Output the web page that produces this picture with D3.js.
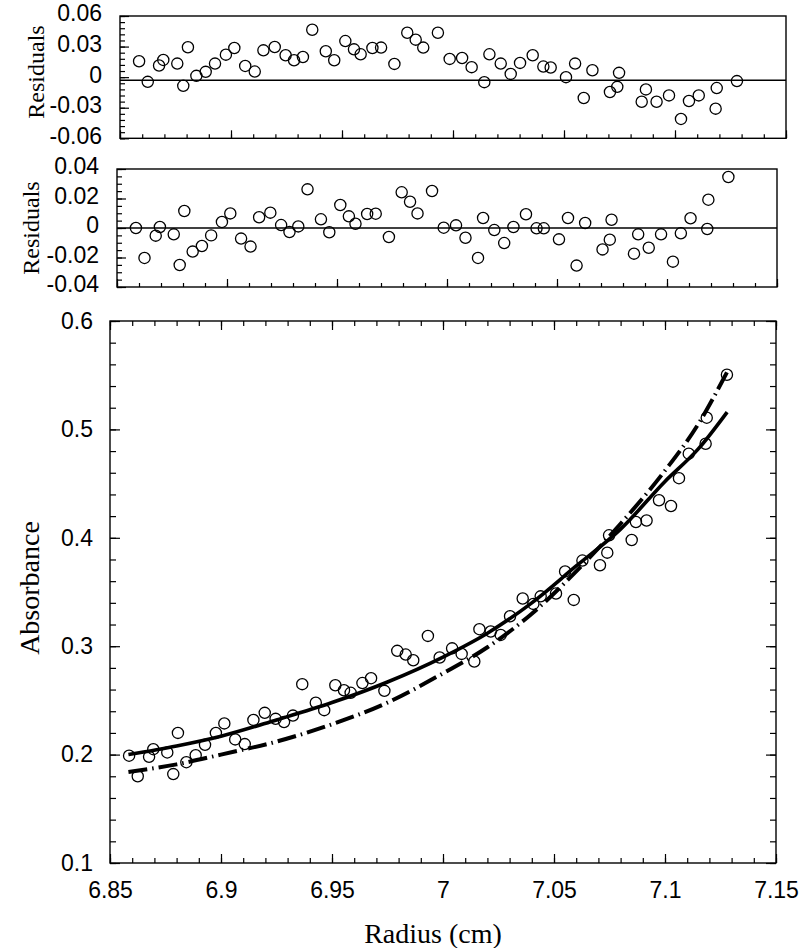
<!DOCTYPE html>
<html>
<head>
<meta charset="utf-8">
<script src="https://cdn.jsdelivr.net/npm/d3@7"></script>
<style>
  html, body { margin: 0; padding: 0; background: #fff; }
  svg { display: block; }
  .tick text { font-family: "Liberation Sans Narrow", "Arial Narrow", sans-serif; font-size: 23px; fill: #000; }
  .tick line { stroke: #000; stroke-width: 1.2; }
  .title { font-family: "Liberation Serif", "Times New Roman", serif; fill: #000; }
</style>
</head>
<body>
<div id="chart"></div>
<script>
// radial positions (cm) of the scan points
const radius = [
  6.8586, 6.8625, 6.8676, 6.8695, 6.8758, 6.8785, 6.8806, 6.8844, 6.8886, 6.8928,
  6.8977, 6.9015, 6.9064, 6.9107, 6.9146, 6.9197, 6.9246, 6.9284, 6.9324, 6.9366,
  6.9427, 6.9465, 6.9515, 6.9554, 6.9584, 6.9637, 6.9676, 6.9736, 6.9794, 6.9832,
  6.9866, 6.9932, 6.9985, 7.0041, 7.0084, 7.0141, 7.0164, 7.0215, 7.0260, 7.0302,
  7.0359, 7.0407, 7.0440, 7.0509, 7.0550, 7.0589, 7.0628, 7.0707, 7.0740, 7.0748,
  7.0850, 7.0869, 7.0917, 7.0973, 7.1027, 7.1063, 7.1107, 7.1183, 7.1188, 7.1279
];

const absorbance = [
  0.199, 0.180, 0.198, 0.205, 0.202, 0.182, 0.220, 0.193, 0.1995, 0.209,
  0.220, 0.2288, 0.214, 0.2097, 0.232, 0.2385, 0.233, 0.230, 0.236, 0.265,
  0.2478, 0.241, 0.264, 0.2594, 0.257, 0.266, 0.2705, 0.2588, 0.2957, 0.2923,
  0.287, 0.3095, 0.2896, 0.298, 0.2929, 0.2859, 0.3157, 0.3136, 0.3104, 0.3276,
  0.344, 0.339, 0.346, 0.3486, 0.369, 0.3427, 0.379, 0.3747, 0.3863, 0.4023,
  0.398, 0.4146, 0.416, 0.4346, 0.4293, 0.455, 0.4776, 0.4868, 0.5108, 0.5504
];

// residuals, top panel
const residualsTop = [
  0.0156, -0.0046, 0.0114, 0.0169, 0.0133, -0.0085, 0.0293, 0.0013, 0.0052, 0.0133,
  0.0221, 0.0286, 0.011, 0.0055, 0.0263, 0.0296, 0.0215, 0.0166, 0.0198, 0.0465,
  0.0254, 0.0166, 0.0354, 0.0273, 0.0224, 0.0286, 0.029, 0.013, 0.0436, 0.0368,
  0.029, 0.0436, 0.0179, 0.0188, 0.0098, -0.0049, 0.0224, 0.0133, 0.0032, 0.014,
  0.0215, 0.0104, 0.0095, 0.000, 0.0133, -0.0205, 0.0068, -0.0146, -0.0095, 0.0042,
  -0.0241, -0.012, -0.0241, -0.0179, -0.041, -0.0234, -0.0179, -0.0309, -0.0107, -0.0039
];

// residuals, middle panel
const residualsMid = [
  0.000, -0.0203, -0.0052, 0.0007, -0.0043, -0.0251, 0.0115, -0.016, -0.0122, -0.005,
  0.0041, 0.0099, -0.0072, -0.0126, 0.0073, 0.0104, 0.002, -0.0027, 0.0011, 0.0262,
  0.0059, -0.0029, 0.0156, 0.0079, 0.0029, 0.0095, 0.0097, -0.0061, 0.0242, 0.0178,
  0.0099, 0.0251, 0.0002, 0.0018, -0.0066, -0.0203, 0.0068, -0.0014, -0.0102, 0.0007,
  0.0093, -0.0002, -0.0002, -0.0077, 0.0068, -0.0255, 0.0034, -0.0145, -0.0079, 0.0056,
  -0.0174, -0.0043, -0.0134, -0.0043, -0.0228, -0.0036, 0.0066, -0.0007, 0.0192, 0.0346
];

// fitted curves
const solidFitX = [6.8583, 6.88, 6.90, 6.925, 6.95, 6.975, 7.00, 7.02, 7.04, 7.06, 7.08, 7.10, 7.115, 7.128];
const solidFitY = [0.200, 0.208, 0.217, 0.232, 0.248, 0.267, 0.290, 0.312, 0.340, 0.374, 0.408, 0.452, 0.482, 0.516];
const dashFitX = [6.8583, 6.88, 6.90, 6.925, 6.95, 6.975, 7.00, 7.02, 7.04, 7.06, 7.08, 7.10, 7.115, 7.128];
const dashFitY = [0.184, 0.191, 0.200, 0.212, 0.228, 0.248, 0.275, 0.299, 0.330, 0.369, 0.413, 0.462, 0.505, 0.553];

// zero reference lines of the residual panels
const topRefLine = -0.003;
const midRefLine = 0;

const xTicks = [6.85, 6.9, 6.95, 7, 7.05, 7.1, 7.15];
const xTickLabels = ["6.85", "6.9", "6.95", "7", "7.05", "7.1", "7.15"];
const mainYTicks = [0.1, 0.2, 0.3, 0.4, 0.5, 0.6];
const mainYLabels = ["0.1", "0.2", "0.3", "0.4", "0.5", "0.6"];
const topYTicks = [-0.06, -0.03, 0, 0.03, 0.06];
const topYLabels = ["-0.06", "-0.03", "0", "0.03", "0.06"];
const midYTicks = [-0.04, -0.02, 0, 0.02, 0.04];
const midYLabels = ["-0.04", "-0.02", "0", "0.02", "0.04"];

const W = 800, H = 948;
const svg = d3.select('#chart').append('svg').attr('width', W).attr('height', H);

const xMinor = d3.range(0, 31).map(i => 6.85 + i * 0.01);

function frame(g, x, y) {
  g.append('rect')
    .attr('x', x.range()[0]).attr('y', y.range()[1])
    .attr('width', x.range()[1] - x.range()[0])
    .attr('height', y.range()[0] - y.range()[1])
    .attr('fill', 'none').attr('stroke', '#000').attr('stroke-width', 1.4);
}

function labelMap(ticks, labels) {
  return d => labels[ticks.findIndex(t => Math.abs(t - d) < 1e-9)];
}

function tickAxis(g, axis, transform) {
  const a = g.append('g').attr('transform', transform).call(axis);
  a.select('.domain').remove();
  return a;
}

function circles(g, x, y, ys) {
  g.append('g').selectAll('circle')
    .data(radius.map((r, i) => [r, ys[i]]))
    .join('circle')
    .attr('cx', d => x(d[0]))
    .attr('cy', d => y(d[1]))
    .attr('r', 5.6)
    .attr('fill', 'none')
    .attr('stroke', '#000')
    .attr('stroke-width', 1.3);
}

function residualPanel(opt) {
  const g = svg.append('g');
  const x = d3.scaleLinear().domain([6.85, 7.15]).range([opt.left, opt.right]);
  const y = d3.scaleLinear().domain(opt.domain).range([opt.bottom, opt.top]);

  tickAxis(g, d3.axisBottom(x).tickValues(xMinor).tickSize(-4).tickFormat(''), `translate(0,${opt.bottom})`);
  tickAxis(g, d3.axisBottom(x).tickValues(xTicks).tickSize(-8).tickFormat(''), `translate(0,${opt.bottom})`);
  tickAxis(g, d3.axisLeft(y).tickValues(opt.minor).tickSize(-5).tickFormat(''), `translate(${opt.left},0)`);
  const ya = tickAxis(g, d3.axisLeft(y).tickValues(opt.ticks).tickSize(-9).tickPadding(18)
    .tickFormat(labelMap(opt.ticks, opt.labels)), `translate(${opt.left},0)`);
  ya.selectAll('text').attr('dy', '0.32em').attr('y', -2.5);

  g.append('line')
    .attr('x1', opt.left).attr('x2', opt.right)
    .attr('y1', y(opt.ref)).attr('y2', y(opt.ref))
    .attr('stroke', '#000').attr('stroke-width', 1.5);

  frame(g, x, y);
  circles(g, x, y, opt.values);

  g.append('text').attr('class', 'title')
    .attr('transform', 'rotate(-90)')
    .attr('x', -opt.labelY).attr('y', opt.labelX)
    .attr('text-anchor', 'middle')
    .style('font-size', '24px')
    .text('Residuals');
}

const topMinor = d3.range(0, 21).map(i => -0.06 + i * 0.006);
const midMinor = d3.range(0, 17).map(i => -0.04 + i * 0.005);

residualPanel({
  left: 120, right: 786, top: 16, bottom: 138.3,
  domain: [-0.06, 0.06], ticks: topYTicks, labels: topYLabels, minor: topMinor,
  ref: topRefLine, values: residualsTop, labelX: 44, labelY: 72
});

residualPanel({
  left: 117, right: 777, top: 169, bottom: 287,
  domain: [-0.04, 0.04], ticks: midYTicks, labels: midYLabels, minor: midMinor,
  ref: midRefLine, values: residualsMid, labelX: 39, labelY: 228
});

// main absorbance panel
const mg = svg.append('g');
const mx = d3.scaleLinear().domain([6.85, 7.15]).range([110, 776]);
const my = d3.scaleLinear().domain([0.1, 0.6]).range([863, 321]);
const yMinor = d3.range(0, 26).map(i => 0.1 + i * 0.02);

tickAxis(mg, d3.axisBottom(mx).tickValues(xMinor).tickSize(-5).tickFormat(''), 'translate(0,863)');
tickAxis(mg, d3.axisBottom(mx).tickValues(xTicks).tickSize(-9).tickPadding(19)
  .tickFormat(labelMap(xTicks, xTickLabels)), 'translate(0,863)');
tickAxis(mg, d3.axisTop(mx).tickValues(xMinor).tickSize(-5).tickFormat(''), 'translate(0,321)');
tickAxis(mg, d3.axisTop(mx).tickValues(xTicks).tickSize(-9).tickFormat(''), 'translate(0,321)');
tickAxis(mg, d3.axisLeft(my).tickValues(yMinor).tickSize(-6).tickFormat(''), 'translate(110,0)');
tickAxis(mg, d3.axisLeft(my).tickValues(mainYTicks).tickSize(-10).tickPadding(17)
  .tickFormat(labelMap(mainYTicks, mainYLabels)), 'translate(110,0)');
tickAxis(mg, d3.axisRight(my).tickValues(yMinor).tickSize(-6).tickFormat(''), 'translate(776,0)');
tickAxis(mg, d3.axisRight(my).tickValues(mainYTicks).tickSize(-10).tickFormat(''), 'translate(776,0)');

frame(mg, mx, my);
circles(mg, mx, my, absorbance);

const line = d3.line().x(d => mx(d[0])).y(d => my(d[1])).curve(d3.curveMonotoneX);

mg.append('path')
  .datum(dashFitX.map((v, i) => [v, dashFitY[i]]))
  .attr('d', line)
  .attr('fill', 'none').attr('stroke', '#000')
  .attr('stroke-width', 4)
  .attr('stroke-dasharray', '19,5,1.5,5');

mg.append('path')
  .datum(solidFitX.map((v, i) => [v, solidFitY[i]]))
  .attr('d', line)
  .attr('fill', 'none').attr('stroke', '#000')
  .attr('stroke-width', 3.6);

mg.append('text').attr('class', 'title')
  .attr('transform', 'rotate(-90)')
  .attr('x', -588).attr('y', 39)
  .attr('text-anchor', 'middle')
  .style('font-size', '28px')
  .text('Absorbance');

mg.append('text').attr('class', 'title')
  .attr('x', 433).attr('y', 943)
  .attr('text-anchor', 'middle')
  .style('font-size', '28px')
  .text('Radius (cm)');
</script>
</body>
</html>
